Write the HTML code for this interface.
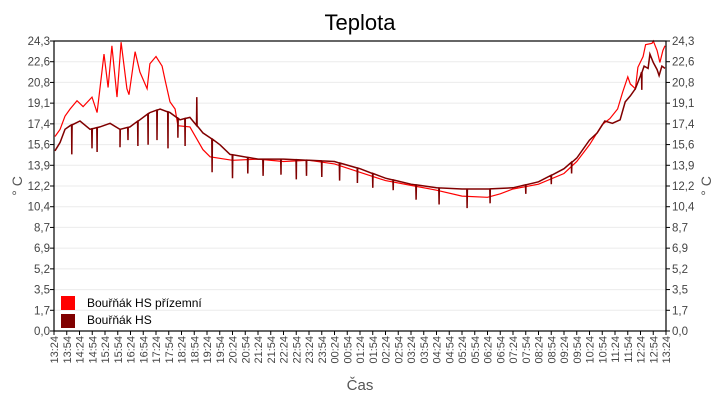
<!DOCTYPE html>
<html><head><meta charset="utf-8"><style>
body{margin:0;background:#fff;width:720px;height:400px;overflow:hidden}
svg{display:block;font-family:"Liberation Sans",sans-serif}
</style></head><body>
<svg id="chart" width="720" height="400"></svg>
<script>
const yTicks=["0,0","1,7","3,5","5,2","6,9","8,7","10,4","12,2","13,9","15,6","17,4","19,1","20,8","22,6","24,3"];
const yMax=24.3;
const redT=[0.04,0.24,0.43,0.63,0.9,1.14,1.49,1.69,1.88,1.96,2.12,2.27,2.47,2.63,2.86,2.94,3.18,3.37,3.65,3.76,4.0,4.24,4.35,4.55,4.75,4.86,5.33,5.6,5.84,6.12,7,8,9,10,11,12,13,14,15,16,17,17.5,18,19,20,20.5,21,21.5,21.8,22.1,22.3,22.5,22.6,22.8,22.9,23.1,23.2,23.45,23.5,23.65,23.76,23.88,23.96];
const redV=[16.3,16.9,18.0,18.6,19.3,18.8,19.6,18.3,21.7,23.2,20.4,23.9,19.6,24.2,20.3,19.8,23.4,21.7,20.3,22.4,23.0,22.2,21.1,19.2,18.6,17.2,17.1,16.1,15.2,14.6,14.3,14.4,14.2,14.3,14.0,13.3,12.6,12.2,11.8,11.3,11.2,11.5,11.9,12.3,13.2,14.2,15.6,17.3,17.8,18.6,20.0,21.3,20.7,20.3,22.1,23.0,24.0,24.1,24.3,23.5,22.5,23.5,23.9];
const darkT=[0.04,0.24,0.43,0.63,1.02,1.41,1.8,2.2,2.59,2.98,3.37,3.76,4.16,4.55,4.94,5.33,5.61,5.84,6.12,6.51,6.9,8,9,10,11,12,13,14,15,16,17,18,19,20,20.5,21,21.3,21.6,21.9,22.2,22.4,22.6,22.8,23.0,23.14,23.3,23.37,23.5,23.65,23.73,23.84,23.96];
const darkV=[15.1,15.8,16.9,17.2,17.6,16.9,17.1,17.4,16.9,17.1,17.7,18.3,18.6,18.3,17.7,17.9,17.2,16.6,16.2,15.6,14.8,14.4,14.4,14.3,14.2,13.6,12.8,12.3,12.0,11.9,11.9,12.0,12.5,13.6,14.5,16.0,16.6,17.6,17.4,17.7,19.2,19.7,20.3,21.4,22.2,22.0,23.2,22.5,21.9,21.4,22.2,22.0];
const spikeT=[0.7,1.49,1.69,2.59,2.9,3.29,3.69,4.04,4.47,4.86,5.14,5.6,6.2,7.0,7.6,8.2,8.9,9.5,9.9,10.5,11.2,11.9,12.5,13.3,14.2,15.1,16.2,17.1,18.5,19.5,20.3,23.05];
const spikeV=[14.8,15.3,15.0,15.4,16.0,15.5,15.6,16.0,15.3,16.2,15.5,19.6,13.3,12.8,13.2,13.0,13.1,12.7,13.0,12.9,12.6,12.4,12.0,11.8,11.0,10.6,10.3,10.7,11.5,12.3,13.2,20.2];
const xLabels=[];
for(let i=0;i<=48;i++){const m=13*60+24+i*30;const h=Math.floor(m/60)%24,mm=m%60;xLabels.push(String(h).padStart(2,"0")+":"+String(mm).padStart(2,"0"));}

const L=54,R=666,T=41,B=331;
const xS=t=>L+t/24*(R-L);
const yS=v=>B-v/yMax*(B-T);
const NS="http://www.w3.org/2000/svg";
const svg=document.getElementById("chart");
function mk(tag,attrs,parent){const e=document.createElementNS(NS,tag);for(const k in attrs)e.setAttribute(k,attrs[k]);(parent||svg).appendChild(e);return e;}

const grid=mk("g",{});


yTicks.forEach((lab,i)=>{
  const v=i*yMax/(yTicks.length-1),y=yS(v);
  if(i>0&&i<yTicks.length-1){const g=mk("line",{x1:L,x2:R,y1:y,y2:y,stroke:"#ebebeb"},grid);}
  const t1=mk("line",{x1:L-4,x2:L,y1:y,y2:y,stroke:"#000"});
  
  const t2=mk("line",{x1:R,x2:R+4,y1:y,y2:y,stroke:"#000"});
  
  const a=mk("text",{x:L-4,y:y+4,"text-anchor":"end","font-size":"11.5",fill:"#444"});a.textContent=lab;
  
  const b=mk("text",{x:R+6,y:y+4,"font-size":"11.5",fill:"#444"});b.textContent=lab;
  
});
xLabels.forEach((lab,i)=>{
  const x=xS(i*0.5);
  const t=mk("line",{x1:x,x2:x,y1:B,y2:B+4,stroke:"#000"});
  
  const tx=mk("text",{x:0,y:0,transform:`translate(${x+4},${B+5}) rotate(-90)`,"text-anchor":"end","font-size":"11",fill:"#444"});
  tx.textContent=lab;
  
});
function path(ts,vs){return ts.map((t,i)=>(i?"L":"M")+xS(t).toFixed(1)+","+yS(vs[i]).toFixed(1)).join("");}
const rp=mk("path",{d:path(redT,redV),fill:"none",stroke:"#ff0000","stroke-width":"1.2"});

let pts=darkT.map((t,i)=>[t,darkV[i]]);
spikeT.forEach((t,i)=>{
  let j=0;while(j<darkT.length-1&&darkT[j+1]<t)j++;
  const t0=darkT[j],t1=darkT[Math.min(j+1,darkT.length-1)];
  const base=t1>t0?darkV[j]+(darkV[j+1]-darkV[j])*(t-t0)/(t1-t0):darkV[j];
  pts.push([t-0.01,base],[t,spikeV[i]],[t+0.01,base]);
});
pts.sort((a,b)=>a[0]-b[0]);
const dp=mk("path",{d:path(pts.map(p=>p[0]),pts.map(p=>p[1])),fill:"none",stroke:"#800000","stroke-width":"1.5"});

const fr=mk("rect",{x:L,y:T,width:R-L,height:B-T,fill:"none",stroke:"#000","stroke-width":"1.2"});

</script>
<svg style="position:absolute;left:0;top:0" width="720" height="400">
<text x="360" y="30" text-anchor="middle" font-size="22" font-family="Liberation Sans,sans-serif">Teplota</text>
<text x="360" y="390" text-anchor="middle" font-size="15" fill="#555" font-family="Liberation Sans,sans-serif">Čas</text>
<text transform="translate(22,186) rotate(-90)" text-anchor="middle" font-size="14" fill="#555" font-family="Liberation Sans,sans-serif">° C</text>
<text transform="translate(711,186) rotate(-90)" text-anchor="middle" font-size="14" fill="#555" font-family="Liberation Sans,sans-serif">° C</text>
<g font-family="Liberation Sans,sans-serif" font-size="12">
<rect x="61" y="296" width="14" height="14" fill="#ff0000"/>
<text x="87" y="307">Bouřňák HS přízemní</text>
<rect x="61" y="314" width="14" height="14" fill="#800000"/>
<text x="87" y="324">Bouřňák HS</text>
</g>
</svg>
</body></html>
